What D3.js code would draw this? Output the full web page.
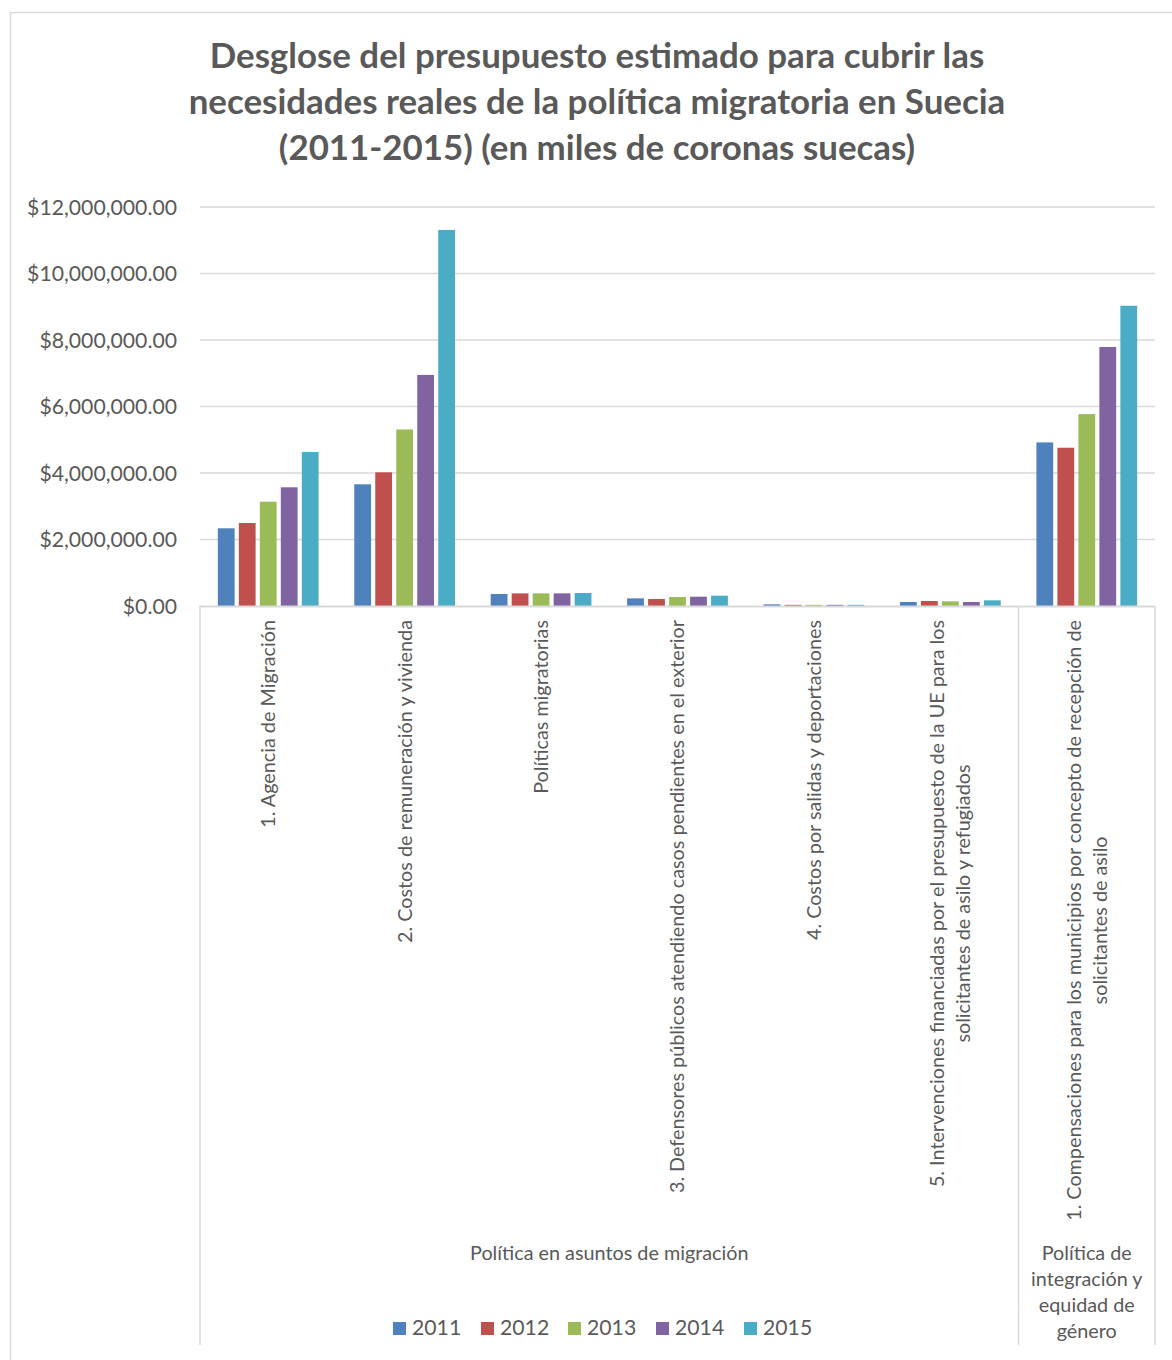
<!DOCTYPE html>
<html><head><meta charset="utf-8">
<script src="https://cdn.jsdelivr.net/npm/d3@7"></script>
<style>body{margin:0;background:#fff}svg{display:block}</style>
</head><body>
<svg id="c" width="1172" height="1360"></svg>
<script>
const titleLines = ["Desglose del presupuesto estimado para cubrir las", "necesidades reales de la política migratoria en Suecia", "(2011-2015) (en miles de coronas suecas)"];
const categories = ["1. Agencia de Migración", "2. Costos de remuneración y vivienda", "Políticas migratorias", "3. Defensores públicos atendiendo casos pendientes en el exterior", "4. Costos por salidas y deportaciones", "5. Intervenciones financiadas por el presupuesto de la UE para los solicitantes de asilo y refugiados", "1. Compensaciones para los municipios por concepto de recepción de solicitantes de asilo"];
const categoryLines = [
  ["1. Agencia de Migración"],
  ["2. Costos de remuneración y vivienda"],
  ["Políticas migratorias"],
  ["3. Defensores públicos atendiendo casos pendientes en el exterior"],
  ["4. Costos por salidas y deportaciones"],
  ["5. Intervenciones financiadas por el presupuesto de la UE para los", "solicitantes de asilo y refugiados"],
  ["1. Compensaciones para los municipios por concepto de recepción de", "solicitantes de asilo"]
];
const groupNames = ["Política en asuntos de migración", "Política de integración y equidad de género"];
const groupLines = [["Política en asuntos de migración"], ["Política de", "integración y", "equidad de", "género"]];
const groupSizes = [6, 1];
const years = ["2011", "2012", "2013", "2014", "2015"];
const v2011 = [2337000, 3660000, 360000, 230000, 50000, 120000, 4920000];
const v2012 = [2496000, 4020000, 380000, 210000, 35000, 150000, 4760000];
const v2013 = [3137000, 5310000, 380000, 270000, 35000, 140000, 5770000];
const v2014 = [3570000, 6950000, 380000, 280000, 35000, 120000, 7790000];
const v2015 = [4630000, 11310000, 390000, 310000, 35000, 170000, 9030000];
const seriesValues = [v2011, v2012, v2013, v2014, v2015];
const colors = ["#4F81BD", "#C0504D", "#9BBB59", "#8064A2", "#4BACC6"];
const yTicks = [0, 2000000, 4000000, 6000000, 8000000, 10000000, 12000000];

const svg = d3.select("#c");
const FONT = "Lato, 'Open Sans', sans-serif";
const TXT = "#595959";
const L = 200, R = 1155, T = 207, B = 606;

function fit(sel, target) {
  const w = sel.node().getComputedTextLength();
  const fs = parseFloat(sel.attr("font-size"));
  sel.attr("font-size", fs * target / w);
  return fs * target / w;
}

// outer border
svg.append("rect").attr("x", 10.5).attr("y", 12.5).attr("width", 1200).attr("height", 1400)
  .attr("fill", "#fff").attr("stroke", "#d9d9d9").attr("stroke-width", 1.5);

// title
const t0 = svg.append("text").attr("x", 597).attr("y", 68).attr("text-anchor", "middle")
  .attr("font-family", FONT).attr("font-weight", "bold").attr("font-size", 30).attr("fill", TXT).text(titleLines[0]);
const tfs = fit(t0, 775);
titleLines.forEach((s, i) => {
  if (i === 0) return;
  svg.append("text").attr("x", 597).attr("y", 68 + i * 46).attr("text-anchor", "middle")
    .attr("font-family", FONT).attr("font-weight", "bold").attr("font-size", tfs).attr("fill", TXT).text(s);
});

const y = d3.scaleLinear().domain([0, 12000000]).range([B, T]);
const x0 = d3.scaleBand().domain(categories).range([L, R]).paddingInner(0).paddingOuter(0);
const x1 = d3.scaleBand().domain(years).range([0, x0.bandwidth()]).paddingInner(0.2).paddingOuter(0.85);

// gridlines
svg.append("g").selectAll("line").data(yTicks.slice(1)).join("line")
  .attr("x1", L).attr("x2", R).attr("y1", d => y(d)).attr("y2", d => y(d))
  .attr("stroke", "#d9d9d9").attr("stroke-width", 1.5);

// y axis labels
const fmt = d3.format(",.2f");
const yAxis = d3.axisLeft(y).tickValues(yTicks).tickSize(0).tickPadding(23).tickFormat(d => "$" + fmt(d));
const gy = svg.append("g").attr("transform", `translate(${L},0)`).call(yAxis);
gy.select(".domain").remove();
gy.selectAll("text").attr("font-family", FONT).attr("font-size", 20).attr("fill", TXT).attr("dy", "0.35em");
const topLbl = gy.selectAll("text").filter(d => d === 12000000);
const yfs = fit(topLbl, 150);
gy.selectAll("text").attr("font-size", yfs);

// bars
const bars = svg.append("g");
years.forEach((yr, si) => {
  bars.append("g").selectAll("rect").data(seriesValues[si]).join("rect")
    .attr("x", (d, i) => x0(categories[i]) + x1(yr))
    .attr("width", x1.bandwidth())
    .attr("y", d => y(d))
    .attr("height", d => B - y(d))
    .attr("fill", colors[si]);
});

// axis line
svg.append("line").attr("x1", L).attr("x2", R).attr("y1", B + 0.5).attr("y2", B + 0.5).attr("stroke", "#d9d9d9").attr("stroke-width", 2);

// group separators
let cum = 0;
const seps = [x0(categories[0])];
groupSizes.forEach(n => { cum += n; seps.push(cum < categories.length ? x0(categories[cum]) : R); });
svg.append("g").selectAll("line").data(seps).join("line")
  .attr("x1", d => d).attr("x2", d => d).attr("y1", B).attr("y2", 1345)
  .attr("stroke", "#d9d9d9").attr("stroke-width", 1.5);

// category labels
const probe = svg.append("text").attr("font-family", FONT).attr("font-size", 18).text(categoryLines[0][0]);
const cfs = fit(probe, 208);
probe.remove();
categoryLines.forEach((lines, i) => {
  const cx = x0(categories[i]) + x0.bandwidth() / 2;
  const g = svg.append("g").attr("transform", `translate(${cx},620) rotate(-90)`);
  const texts = lines.map((s, k) => g.append("text").attr("font-family", FONT).attr("font-size", cfs).attr("fill", TXT)
    .attr("text-anchor", "middle").attr("dy", "0.35em").attr("y", (k - (lines.length - 1) / 2) * 26).text(s));
  const maxLen = d3.max(texts, t => t.node().getComputedTextLength());
  texts.forEach(t => t.attr("x", -maxLen / 2));
});

// group labels
groupLines.forEach((lines, gi) => {
  const a = seps[gi], b = seps[gi + 1];
  const cx = (a + b) / 2;
  lines.forEach((s, k) => {
    svg.append("text").attr("x", cx).attr("y", 1253 + k * 26).attr("dy", "0.35em").attr("text-anchor", "middle")
      .attr("font-family", FONT).attr("font-size", cfs).attr("fill", TXT).text(s);
  });
});

// legend
const legX = [393, 481, 568, 656, 744];
const lg = svg.append("g");
years.forEach((yr, i) => {
  lg.append("rect").attr("x", legX[i]).attr("y", 1322).attr("width", 13).attr("height", 13).attr("fill", colors[i]);
  lg.append("text").attr("x", legX[i] + 19).attr("y", 1328).attr("dy", "0.35em")
    .attr("font-family", FONT).attr("font-size", yfs).attr("fill", TXT).text(yr);
});
</script>
</body></html>
